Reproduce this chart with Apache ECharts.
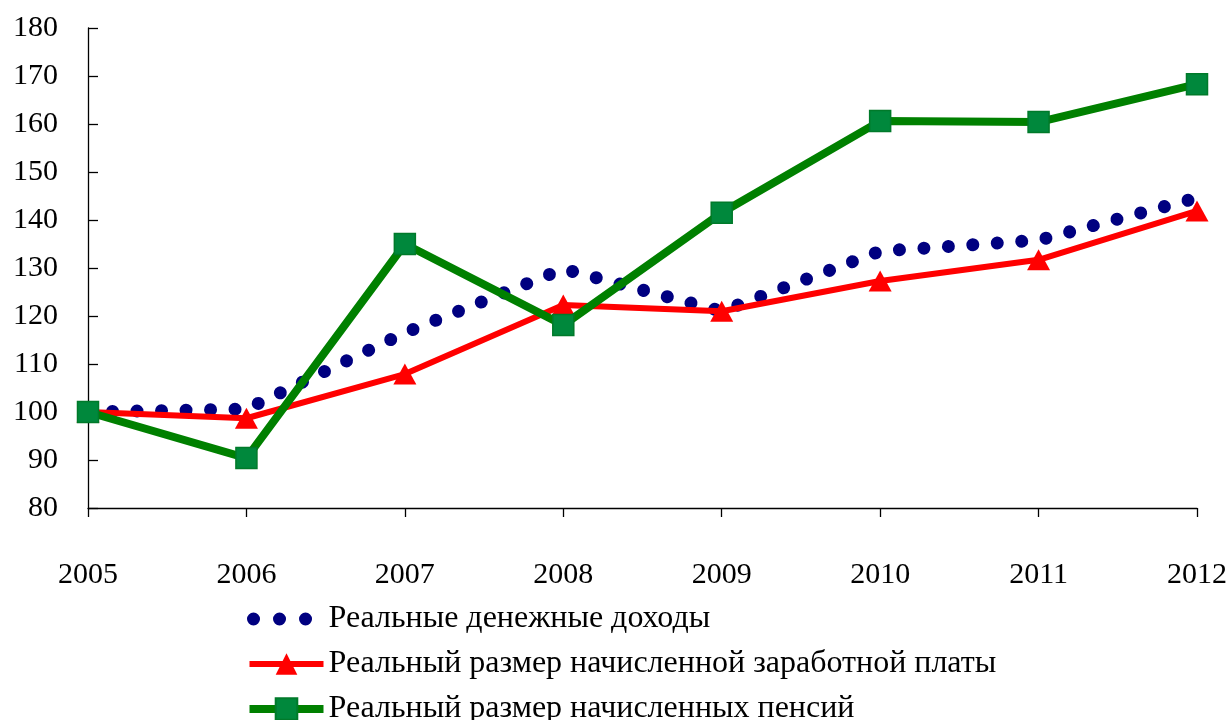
<!DOCTYPE html>
<html><head><meta charset="utf-8">
<script src="https://cdn.jsdelivr.net/npm/echarts@6/dist/echarts.min.js"></script>
<style>html,body{margin:0;padding:0;background:#fff}#c{width:1231px;height:720px}</style>
</head><body><div id="c"></div>
<script>
const years = ['2005','2006','2007','2008','2009','2010','2011','2012'];
const incomes = [100, 100.6, 116.5, 129.8, 121.0, 133.5, 135.8, 144.6];
const wages = [100, 98.7, 107.9, 122.3, 121.0, 127.3, 131.7, 141.9];
const pensions = [100, 90.4, 135.0, 118.1, 141.5, 160.6, 160.4, 168.3];
const names = ['Реальные денежные доходы','Реальный размер начисленной заработной платы','Реальный размер начисленных пенсий'];
const font = '"Liberation Serif", "Times New Roman", serif';
const chart = echarts.init(document.getElementById('c'));
chart.setOption({
  animation:false,
  grid:{left:88,right:34,top:28,bottom:212,containLabel:false},
  xAxis:{type:'category',data:years,boundaryGap:false,
    axisLine:{lineStyle:{color:'#000',width:1.3}},
    axisTick:{alignWithLabel:true,length:9,lineStyle:{color:'#000',width:1.3}},
    axisLabel:{color:'#000',fontFamily:font,fontSize:30,margin:52}},
  yAxis:{type:'value',min:80,max:180,interval:10,
    axisLine:{show:true,lineStyle:{color:'#000',width:1.3}},
    axisTick:{show:true,inside:true,length:10,lineStyle:{color:'#000',width:1.3}},
    splitLine:{show:false},
    axisLabel:{color:'#000',fontFamily:font,fontSize:30,margin:30}},
  legend:{orient:'vertical',left:243,top:603,height:300,padding:0,itemWidth:74,itemHeight:27,itemGap:13,
    lineStyle:{width:'inherit',type:'inherit',cap:'inherit'},
    textStyle:{fontFamily:font,fontSize:32,color:'#000'},
    data:[
      {name:names[0],itemStyle:{opacity:0},lineStyle:{type:[0.01,26],dashOffset:-4,cap:'round',width:13}},
      names[1],names[2]]},
  series:[
    {name:names[0],type:'line',data:incomes,showSymbol:false,symbol:'none',
     lineStyle:{color:'#000080',width:13,type:[0.01,24.5],cap:'round'},itemStyle:{color:'#000080'},z:1},
    {name:names[1],type:'line',data:wages,symbol:'triangle',symbolSize:[23,21],
     lineStyle:{color:'#ff0000',width:6},itemStyle:{color:'#ff0000'},z:2},
    {name:names[2],type:'line',data:pensions,symbol:'rect',symbolSize:21,
     lineStyle:{color:'#008000',width:8},itemStyle:{color:'#00883c',borderColor:'#007a2a',borderWidth:1.5},z:3}
  ]
});
</script></body></html>
